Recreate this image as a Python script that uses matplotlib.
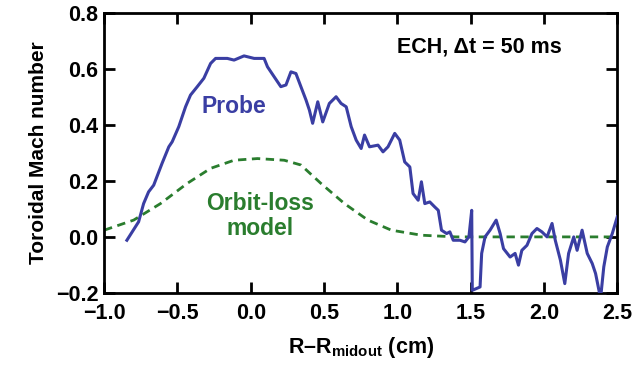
import matplotlib
matplotlib.use("Agg")
import matplotlib.pyplot as plt
import numpy as np

probe_x = [-0.845, -0.765, -0.731, -0.697, -0.662, -0.605, -0.559, -0.536, -0.491, -0.445,
           -0.411, -0.365, -0.320, -0.274, -0.240, -0.160, -0.114, -0.046, 0.023, 0.091,
           0.114, 0.160, 0.205, 0.240, 0.274, 0.308, 0.342, 0.377, 0.400, 0.422,
           0.457, 0.491, 0.536, 0.582, 0.616, 0.651, 0.685, 0.719, 0.753, 0.776,
           0.810, 0.868, 0.902, 0.936, 0.982, 1.016, 1.050, 1.085, 1.107, 1.142,
           1.164, 1.187, 1.221, 1.255, 1.279, 1.301, 1.336, 1.358, 1.381, 1.427,
           1.461, 1.488, 1.507, 1.511, 1.564, 1.575, 1.598, 1.632, 1.674, 1.701,
           1.724, 1.769, 1.803, 1.826, 1.849, 1.884, 1.918, 1.952, 1.986, 2.021,
           2.055, 2.077, 2.112, 2.142, 2.168, 2.203, 2.226, 2.260, 2.295, 2.329,
           2.352, 2.386, 2.408, 2.432, 2.466, 2.500]
probe_y = [-0.012, 0.054, 0.119, 0.161, 0.185, 0.263, 0.322, 0.340, 0.394, 0.465,
           0.507, 0.537, 0.567, 0.620, 0.638, 0.638, 0.632, 0.647, 0.638, 0.638,
           0.608, 0.572, 0.537, 0.543, 0.590, 0.584, 0.537, 0.489, 0.453, 0.406,
           0.483, 0.411, 0.477, 0.501, 0.477, 0.465, 0.394, 0.346, 0.316, 0.364,
           0.322, 0.328, 0.304, 0.322, 0.370, 0.346, 0.268, 0.250, 0.155, 0.131,
           0.197, 0.119, 0.125, 0.107, 0.095, 0.024, 0.012, 0.018, -0.012, -0.012,
           -0.018, 0.000, 0.095, -0.191, -0.179, -0.059, 0.000, 0.024, 0.060, 0.012,
           -0.042, -0.072, -0.059, -0.101, -0.048, -0.030, 0.012, 0.030, 0.018, 0.000,
           0.048, -0.012, -0.083, -0.167, -0.059, 0.000, -0.048, 0.024, -0.059, -0.095,
           -0.131, -0.220, -0.107, -0.036, 0.012, 0.072]

# orbit-loss model
model_x = [-1.0, -0.799, -0.616, -0.434, -0.274, -0.114, 0.046, 0.228, 0.342, 0.479,
           0.639, 0.799, 0.959, 1.164, 1.4, 2.5]
model_y = [0.024, 0.060, 0.119, 0.191, 0.245, 0.274, 0.280, 0.274, 0.257, 0.191,
           0.119, 0.060, 0.024, 0.006, 0.0, 0.0]

xticks = [-1.0, -0.5, 0.0, 0.5, 1.0, 1.5, 2.0, 2.5]
yticks = [-0.2, 0.0, 0.2, 0.4, 0.6, 0.8]

FONT = ["Liberation Sans", "DejaVu Sans"]
plt.rcParams["font.family"] = FONT
plt.rcParams["font.weight"] = "bold"
plt.rcParams["mathtext.fontset"] = "custom"
plt.rcParams["mathtext.rm"] = "Liberation Sans:bold"
plt.rcParams["mathtext.bf"] = "Liberation Sans:bold"

blue = "#3a3ea3"
green = "#2a7d2e"

fig = plt.figure(figsize=(6.43, 3.74), dpi=100)
ax = fig.add_axes([0.162, 0.217, 0.798, 0.748])

ax.plot(model_x, model_y, color=green, linewidth=2.0, linestyle=(0, (3, 2)), zorder=2)
ax.plot(probe_x, probe_y, color=blue, linewidth=2.2, zorder=3)

ax.set_xlim(-1.0, 2.5)
ax.set_ylim(-0.2, 0.8)
ax.set_xticks(xticks)
ax.set_yticks(yticks)
ax.set_xticklabels([f"{t:.1f}".replace("-", "\u2212") for t in xticks])
ax.set_yticklabels([f"{t:.1f}".replace("-", "\u2212") for t in yticks])
ax.tick_params(direction="in", length=8, width=2, top=True, right=True, labelsize=15.5)
ax.tick_params(axis="x", pad=7)
ax.tick_params(axis="y", pad=4)
for s in ax.spines.values():
    s.set_linewidth(2)

ax.set_xlabel("R\u2013R$_{\\mathrm{midout}}$ (cm)", fontsize=15.5, fontweight="bold", labelpad=8)
ax.set_ylabel("Toroidal Mach number", fontsize=15, fontweight="bold", labelpad=6)

ax.text(1.0, 0.68, "ECH, \u0394t = 50 ms", fontsize=15.5, fontweight="bold",
        ha="left", va="center")
ax.text(-0.116, 0.465, "Probe", color=blue, fontsize=16.5, fontweight="bold",
        ha="center", va="center")
ax.text(0.065, 0.075, "Orbit-loss\nmodel", color=green, fontsize=16.5, fontweight="bold",
        ha="center", va="center", linespacing=1.1)

fig.savefig("out.png", dpi=100)
